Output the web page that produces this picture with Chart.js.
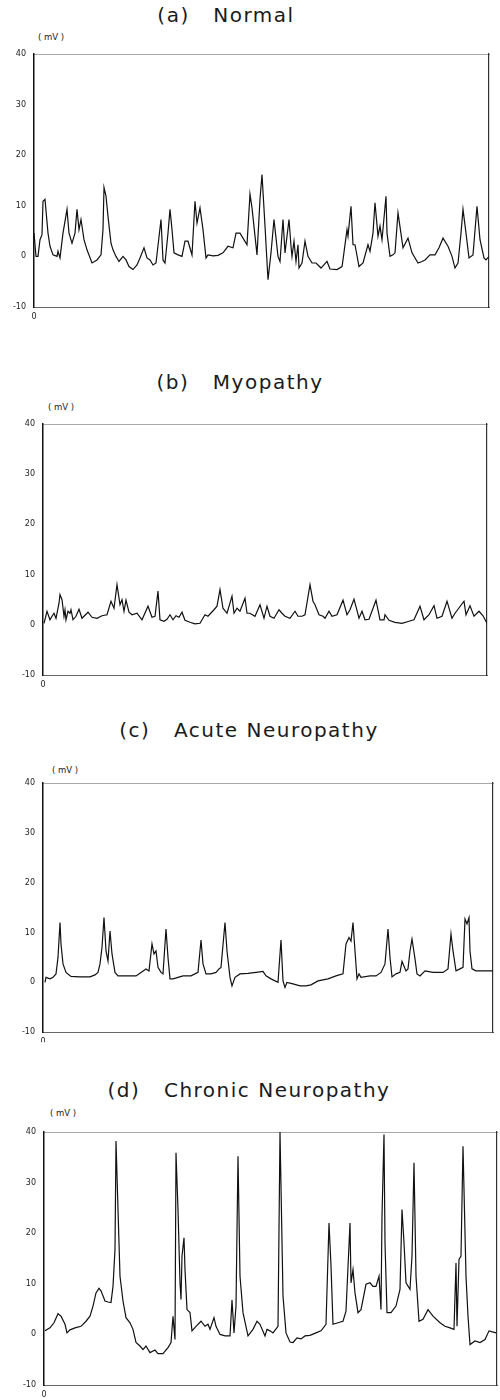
<!DOCTYPE html>
<html>
<head>
<meta charset="utf-8">
<title>EMG interference patterns</title>
<script src="https://cdn.jsdelivr.net/npm/chart.js@4.4.1/dist/chart.umd.min.js"></script>
<style>
  body { margin: 0; width: 500px; height: 1400px; background: #fff; position: relative; overflow: hidden; }
  canvas { position: absolute; left: 0; }
  .title { position: absolute; transform: translate(-50%, -50%); white-space: pre;
           font-family: "DejaVu Sans", sans-serif; font-size: 20px; letter-spacing: 1.5px; color: #1a1a1a; }
  .unit { position: absolute; transform: translate(-50%, -50%); white-space: pre;
          font-family: "DejaVu Sans", sans-serif; font-size: 8.5px; color: #222; }
</style>
</head>
<body>
<div class="title" style="left:226px; top:15px">(a)   Normal</div>
<div class="unit" style="left:51px; top:37px">( mV )</div>
<canvas id="chartA" width="500" height="335" style="top:0px"></canvas>

<div class="title" style="left:240px; top:382px">(b)   Myopathy</div>
<div class="unit" style="left:61px; top:407px">( mV )</div>
<canvas id="chartB" width="500" height="360" style="top:335px"></canvas>

<div class="title" style="left:249px; top:730px">(c)   Acute Neuropathy</div>
<div class="unit" style="left:65px; top:770px">( mV )</div>
<canvas id="chartC" width="500" height="350" style="top:695px"></canvas>

<div class="title" style="left:249px; top:1090px">(d)   Chronic Neuropathy</div>
<div class="unit" style="left:63px; top:1113px">( mV )</div>
<canvas id="chartD" width="500" height="355" style="top:1045px"></canvas>

<script>
// values (time in samples, amplitude in mV)
const yTicks = [-10, 0, 10, 20, 30, 40];

const normalT = [0,2,4,6,8,9,11,14,16,19,23,24,26,29,33,35,38,41,43,45,47,50,53,58,63,67,69,70,72,74,77,79,82,85,89,92,95,99,103,106,110,113,116,119,122,127,129,131,134,136,138,140,144,148,151,154,158,161,163,166,169,172,174,179,184,189,194,199,202,206,213,216,218,223,226,228,231,234,237,240,244,246,249,251,255,257,258,260,262,264,265,268,271,274,278,282,287,293,296,303,308,309,313,314,317,319,321,325,329,334,336,339,341,344,346,348,352,353,356,359,361,364,369,374,378,384,388,391,396,401,405,409,414,418,421,424,427,429,432,435,439,443,446,450,452,455];
const normalMv = [4.6,0,0,3.3,4.3,10.9,11.3,4.6,2.0,0.3,0,1.0,-0.3,4.6,9.3,4.6,2.6,4.6,9.3,5.3,7.3,3.3,1.3,-1.3,-0.7,0.3,5.3,13.6,11.9,7.9,2.6,1.3,0,-1.0,0,-0.7,-2.0,-2.6,-1.7,-0.3,1.7,-0.3,-0.7,-1.7,-1.3,7.3,-0.7,-1.3,4.6,9.3,5.3,0.7,0.3,0,3.0,3.0,0.3,10.9,6.6,9.6,5.3,-0.3,0.3,0.1,0.2,0.7,2.0,1.7,4.6,4.6,2.3,12.3,9.6,0.3,11.3,16.2,6.0,-4.6,0.7,7.3,0,-1.0,7.3,0.7,7.3,2.0,0,3.0,-1.0,2.3,-2.3,-1.3,3.0,0,-1.3,-1.3,-2.3,-1.0,-2.5,-2.6,-2.0,-0.7,5.3,4.0,9.9,2.3,2.3,-2.0,-1.3,2.3,1.0,4.6,10.6,4.0,6.0,3.3,11.9,4.6,0,0.3,0.7,8.6,1.7,3.6,0.7,-1.3,-1.0,-0.7,0.3,0.3,1.7,3.6,2.0,0,-2.3,-1.3,4.6,9.3,4.6,-0.3,0.3,9.9,3.3,-0.3,-0.7,0];

const myoT = [1,4,7,9,11,13,16,17,19,21,22,23,25,27,28,30,33,36,39,45,49,54,59,64,68,71,74,77,79,81,83,86,89,94,99,105,109,112,115,117,121,124,127,130,133,136,139,142,147,152,157,162,165,171,174,177,180,184,189,191,194,197,202,204,207,212,217,221,224,227,231,236,239,242,247,252,255,259,262,267,270,272,276,280,282,286,289,294,300,304,307,311,316,319,322,326,333,337,341,342,346,352,359,366,371,377,381,386,391,394,399,404,409,412,421,423,427,431,436,440,444];
const myoMv = [0.3,2.7,1.0,1.7,2.3,1.3,4.3,6.0,5.0,1.7,3.0,1.0,2.7,2.3,3.0,1.0,1.7,3.1,1.3,2.5,1.5,1.3,1.8,2.0,4.7,3.3,8.0,4.0,5.0,2.7,4.9,2.5,2.0,2.3,1.0,3.7,1.5,1.7,6.7,1.0,0.7,1.1,2.0,1.0,1.8,1.5,2.5,0.9,0.5,0.2,0.3,2.0,1.7,3.0,3.7,7.0,3.3,2.3,5.7,2.3,3.3,2.7,5.3,2.3,2.3,1.7,4.0,1.3,3.7,1.7,1.3,3.0,2.3,1.7,1.3,2.7,1.7,1.7,2.0,8.0,4.7,4.0,2.0,1.7,1.3,2.7,1.7,2.0,4.9,2.0,3.0,5.1,1.3,2.7,1.0,1.1,4.9,1.0,1.0,2.0,0.9,0.5,0.3,0.7,1.0,3.7,1.0,2.0,3.8,1.3,1.7,4.7,1.3,2.3,4.7,2.0,3.8,1.7,2.7,1.8,0.3];

const acuteT = [2,3,7,10,13,15,17,18,20,23,28,37,47,52,55,57,59,61,63,65,67,69,72,75,83,93,98,103,106,109,111,113,115,118,120,123,125,127,130,135,140,148,155,158,160,163,168,173,176,178,182,184,187,189,192,197,205,213,220,223,228,235,238,240,242,244,250,257,263,268,275,285,293,300,303,306,308,310,312,314,316,318,327,333,338,342,345,347,349,353,357,359,363,365,367,369,372,374,377,382,390,400,405,408,410,413,417,420,422,424,426,427,429,433,440,450];
const acuteMv = [0,1.0,0.7,1.0,1.7,5.0,12.0,7.7,3.7,2.0,1.2,1.1,1.1,1.5,2.0,3.7,7.0,13.0,6.3,4.3,10.3,5.7,2.0,1.3,1.3,1.3,2.0,2.7,2.3,7.7,5.7,6.3,3.0,2.0,1.7,10.7,5.0,0.7,0.7,1.0,1.3,1.3,2.0,8.5,3.7,1.7,1.7,2.0,2.7,3.0,12.0,6.3,1.0,-0.7,1.0,1.7,1.8,2.0,2.2,1.3,0.7,0,8.5,0.3,-1.0,0,-0.3,-0.7,-0.7,-0.5,0.3,0.7,1.3,1.7,7.7,9.0,8.3,12.0,6.3,0.7,1.7,1.0,1.3,1.3,2.0,3.7,10.7,5.0,1.1,1.7,2.0,4.2,2.3,2.7,6.3,8.7,4.7,1.7,1.3,2.3,2.0,2.0,2.7,9.7,6.3,2.3,2.7,3.0,12.7,11.7,13.0,6.3,2.7,2.3,2.3,2.3];

const chronicT = [1,6,10,14,17,21,23,26,31,37,42,46,49,52,55,57,61,64,67,69,71,72,74,76,79,82,86,89,92,96,99,102,106,111,114,119,124,127,129,131,132,134,136,137,138,140,141,143,146,148,152,157,161,164,166,170,172,176,181,186,188,190,192,194,196,199,204,209,213,216,221,223,226,229,234,236,239,242,246,249,253,257,261,266,272,277,282,285,287,289,294,299,302,306,307,309,311,314,317,322,326,329,332,335,337,338,340,341,343,347,352,356,358,360,362,366,368,370,372,375,379,384,389,396,401,406,410,412,413,415,417,419,422,424,426,431,436,441,445,452];
const chronicMv = [0.7,1.3,2.3,4.1,3.6,2.0,0.3,0.9,1.3,1.6,2.6,3.6,5.6,8.2,9.1,8.6,6.6,6.4,6.3,9.5,16.8,38.2,24.7,11.5,6.6,3.3,2.3,1.0,-1.6,-2.3,-3.0,-2.3,-3.6,-3.1,-3.8,-3.8,-2.6,-1.6,3.6,-1.0,35.9,24.7,10.2,6.9,15.5,19.1,12.8,4.9,4.3,0.7,1.6,2.6,1.6,2.0,1.0,3.3,1.6,0,-0.3,-0.3,6.8,0.3,5.6,35.2,11.5,4.3,-0.3,1.0,2.6,2.0,-0.3,1.0,0.7,0.3,1.6,40,7.6,0.3,-1.5,-1.6,-0.7,-0.9,-0.3,-0.2,0.3,0.7,2.0,22.0,13.5,2.0,2.3,2.6,4.6,22.0,10.2,12.8,8.2,4.3,4.9,9.9,10.2,9.5,9.5,11.5,4.9,23.4,39.5,18.1,4.3,4.3,5.6,8.9,24.7,18.1,10.2,8.9,15.5,33.9,11.5,2.6,3.0,4.9,3.6,2.3,1.6,1.3,1.0,14.1,1.6,14.8,15.5,37.2,11.5,3.6,-2.0,-1.3,-1.6,-1.0,0.7,0.3];

const tickFont = { family: 'DejaVu Sans', size: 8 };

// box: plot area edges in canvas pixels
function drawPanel(id, t, mv, xMax, box) {
  const canvas = document.getElementById(id);
  const h = canvas.height;
  return new Chart(canvas, {
    type: 'line',
    data: {
      datasets: [{
        data: t.map((x, i) => ({ x: x, y: mv[i] })),
        borderColor: '#111',
        borderWidth: 1.2,
        pointRadius: 0,
        tension: 0,
        fill: false
      }]
    },
    options: {
      responsive: false,
      animation: false,
      events: [],
      layout: { padding: 0 },
      plugins: { legend: { display: false }, tooltip: { enabled: false } },
      scales: {
        x: {
          type: 'linear', position: 'bottom', min: 0, max: xMax,
          grid: { display: false, drawTicks: false },
          border: { color: '#666', width: 1, dash: [9, 3] },
          ticks: { padding: 5, font: tickFont, color: '#222', maxRotation: 0 },
          afterBuildTicks: (s) => { s.ticks = [{ value: 0 }]; },
          afterFit: (s) => { s.height = h - box.bottom; }
        },
        xTop: {
          type: 'linear', position: 'top', min: 0, max: xMax,
          grid: { display: false, drawTicks: false },
          ticks: { display: false },
          border: { color: '#aaa', width: 1, dash: [2, 3] },
          afterFit: (s) => { s.height = box.top; }
        },
        y: {
          position: 'left', min: -10, max: 40,
          grid: { display: false, drawTicks: false },
          border: { color: '#111', width: 1.5 },
          ticks: { padding: 8, font: tickFont, color: '#222' },
          afterBuildTicks: (s) => { s.ticks = yTicks.map(v => ({ value: v })); },
          afterFit: (s) => { s.width = box.left; }
        },
        yRight: {
          position: 'right', min: -10, max: 40,
          grid: { display: false, drawTicks: false },
          ticks: { display: false },
          border: { color: '#333', width: 1.2, dash: [10, 2] },
          afterFit: (s) => { s.width = canvas.width - box.right; }
        }
      }
    }
  });
}

drawPanel('chartA', normalT, normalMv, 455, { left: 34, right: 489, top: 54, bottom: 307 });
drawPanel('chartB', myoT, myoMv, 444, { left: 43, right: 487, top: 89, bottom: 340 });
drawPanel('chartC', acuteT, acuteMv, 450, { left: 43, right: 493, top: 88, bottom: 340 });
drawPanel('chartD', chronicT, chronicMv, 453, { left: 44, right: 497, top: 87, bottom: 340 });
</script>
</body>
</html>
